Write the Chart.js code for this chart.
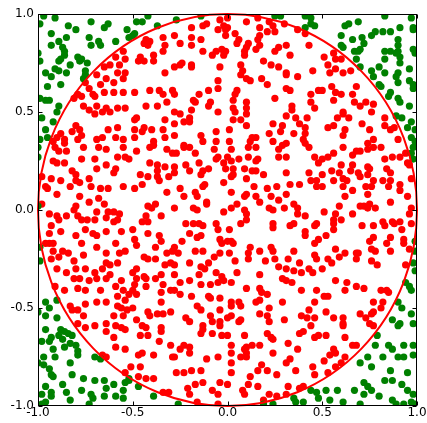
<!DOCTYPE html>
<html>
<head>
<meta charset="utf-8">
<script src="https://cdn.jsdelivr.net/npm/chart.js@4/dist/chart.umd.min.js"></script>
<style>
  html, body { margin: 0; padding: 0; background: #fff; }
  #wrap { width: 427px; height: 423px; }
</style>
</head>
<body>
<div id="wrap"><canvas id="chart" width="427" height="423"></canvas></div>
<script>
// Axis ticks
const xTicks = [-1.0, -0.5, 0.0, 0.5, 1.0];
const yTicks = [-1.0, -0.5, 0.0, 0.5, 1.0];
const circleRadius = 1;

// Points outside the unit circle (green)
const outsidePoints = [
    [-0.97,0.99],[-0.91,0.98],[-0.99,0.95],[-0.93,0.90],[-0.84,0.94],[-0.80,0.92],[-0.72,0.96],[-0.65,0.93],[-0.63,0.95],[-0.53,0.92],
    [-0.52,0.88],[-0.85,0.88],[-0.89,0.86],[-0.93,0.84],[-0.87,0.83],[-0.86,0.81],[-0.86,0.79],[-0.73,0.88],[-0.72,0.84],[-0.68,0.86],
    [-0.67,0.84],[-0.59,0.86],[-1.00,0.80],[-0.99,0.76],[-0.88,0.77],[-0.89,0.76],[-0.79,0.78],[-0.78,0.76],[-0.77,0.77],[-0.74,0.75],
    [-0.83,0.74],[-0.91,0.72],[-0.89,0.71],[-0.96,0.70],[-0.85,0.70],[-0.75,0.71],[-0.75,0.69],[-0.93,0.68],[-0.95,0.63],[-0.88,0.64],
    [-0.76,0.67],[-0.99,0.57],[-0.96,0.56],[-0.94,0.56],[-0.89,0.53],[-0.90,0.50],[-0.98,0.47],[-0.92,0.45],[-0.96,0.41],[-0.95,0.37],
    [-0.99,0.36],
    [-0.48,0.96],[-0.45,0.96],[-0.42,0.99],[-0.37,0.94],[-0.27,0.97],[-0.50,0.89],[-0.49,0.90],[-0.14,0.99],
    [0.25,0.99],[0.28,0.99],[0.41,0.99],[0.44,0.98],[0.44,0.95],[0.46,0.94],[0.41,0.93],
    [0.83,0.99],[0.97,0.98],[0.98,0.93],[0.98,0.92],[0.62,0.94],[0.64,0.95],[0.69,0.96],[0.91,0.93],[0.60,0.89],[0.78,0.91],
    [0.82,0.91],[0.86,0.91],[0.71,0.88],[0.76,0.89],[0.66,0.87],[0.72,0.85],[0.60,0.84],[0.61,0.83],[0.70,0.82],[0.69,0.81],
    [0.67,0.81],[0.90,0.87],[0.90,0.84],[0.83,0.81],[0.86,0.81],[0.89,0.80],[0.90,0.81],[0.91,0.78],[0.83,0.77],[0.98,0.82],
    [0.99,0.80],[0.68,0.77],[0.91,0.75],[0.96,0.72],[0.70,0.73],[0.76,0.71],[0.80,0.73],[0.83,0.70],[0.90,0.70],[0.89,0.68],
    [0.77,0.68],[0.80,0.64],[0.81,0.63],[0.90,0.65],[0.96,0.66],[0.98,0.64],[0.86,0.60],[0.98,0.62],[0.90,0.57],[0.91,0.55],
    [0.85,0.58],[0.96,0.53],[0.89,0.48],[0.92,0.47],[0.97,0.45],[0.99,0.41],[0.95,0.42],[0.97,0.37],[0.99,0.35],
    [-1.00,0.32],[-1.00,0.27],[-1.00,0.02],[-0.99,-0.19],[-0.99,-0.26],
    [0.98,0.32],[0.97,0.29],[0.98,0.26],[0.99,-0.16],[0.99,-0.21],[0.98,-0.27],[0.99,-0.31],
    [-0.96,-0.47],[-0.90,-0.46],[-0.94,-0.50],[-1.00,-0.52],[-0.96,-0.54],[-0.90,-0.55],[-0.96,-0.61],[-0.88,-0.61],[-0.86,-0.62],[-0.84,-0.63],
    [-0.82,-0.64],[-0.89,-0.64],[-0.93,-0.65],[-0.94,-0.67],[-0.98,-0.67],[-0.87,-0.66],[-0.83,-0.68],[-0.80,-0.69],[-0.86,-0.70],[-0.92,-0.71],
    [-0.79,-0.72],[-0.79,-0.74],[-0.97,-0.75],[-0.91,-0.75],[-1.00,-0.78],[-0.97,-0.79],[-0.94,-0.81],[-0.93,-0.84],[-0.92,-0.85],[-0.83,-0.78],
    [-0.82,-0.84],[-0.70,-0.75],[-0.67,-0.76],[-0.76,-0.86],[-0.70,-0.87],[-0.65,-0.87],[-0.60,-0.89],[-0.54,-0.88],[-0.52,-0.87],[-0.96,-0.90],
    [-0.87,-0.89],[-0.64,-0.91],[-0.55,-0.92],[-0.98,-0.94],[-0.93,-0.93],[-0.93,-0.95],[-0.85,-0.93],[-0.77,-0.92],[-0.72,-0.94],[-0.71,-0.96],
    [-0.65,-0.95],[-0.59,-0.95],[-0.55,-0.96],[-0.96,-0.98],[-0.98,-0.99],[-0.83,-0.97],[-0.73,-0.99],
    [-0.52,-0.86],[-0.47,-0.90],[-0.39,-0.95],[-0.26,-0.99],
    [0.19,-0.99],[0.24,-0.99],[0.35,-0.96],[0.36,-0.98],[0.40,-0.98],[0.44,-0.92],[0.47,-0.93],[0.48,-0.96],
    [0.96,-0.39],[0.94,-0.37],[0.97,-0.41],[0.90,-0.47],[0.92,-0.50],[0.97,-0.53],[0.87,-0.56],[0.91,-0.58],[0.90,-0.59],[0.98,-0.58],
    [0.79,-0.64],[0.78,-0.69],[0.85,-0.69],[0.87,-0.71],[0.93,-0.69],[0.98,-0.69],[0.93,-0.75],[0.90,-0.75],[0.98,-0.74],[0.74,-0.75],
    [0.82,-0.75],[0.70,-0.78],[0.76,-0.80],[0.86,-0.82],[0.95,-0.83],[0.83,-0.87],[0.87,-0.87],[0.92,-0.89],[0.72,-0.88],[0.74,-0.90],
    [0.67,-0.92],[0.76,-0.92],[0.72,-0.94],[0.95,-0.92],[0.98,-0.94],[0.58,-0.92],[0.52,-0.92],[0.54,-0.97],[0.61,-0.98],[0.70,-0.99],
    [0.87,-0.97],[0.89,-0.99],[0.93,-0.99],[0.97,-0.98],[0.99,-0.99],[0.80,-0.95]
];

// Points inside the unit circle (red)
const insidePoints = [
    [-0.55,0.81],[-0.59,0.78],[-0.54,0.77],[-0.62,0.74],[-0.57,0.74],[-0.65,0.73],[-0.54,0.70],[-0.58,0.70],[-0.69,0.69],[-0.64,0.67],
    [-0.55,0.67],[-0.60,0.65],[-0.67,0.64],[-0.75,0.65],[-0.73,0.62],[-0.65,0.60],[-0.60,0.60],[-0.55,0.60],[-0.79,0.59],[-0.77,0.58],
    [-0.71,0.59],[-0.70,0.58],[-0.81,0.57],[-0.76,0.53],[-0.69,0.53],[-0.64,0.52],[-0.73,0.51],[-0.66,0.50],[-0.58,0.52],[-0.54,0.52],
    [-0.62,0.50],[-0.70,0.49],[-0.80,0.43],[-0.78,0.41],[-0.82,0.40],[-0.77,0.38],[-0.88,0.39],[-0.90,0.37],[-0.86,0.36],[-0.79,0.36],
    [-0.69,0.36],[-0.63,0.41],[-0.58,0.42],[-0.66,0.37],[-0.59,0.37],[-0.55,0.36],[-0.92,0.35],[-0.86,0.34],
    [-0.19,0.93],[-0.11,0.95],[-0.13,0.94],[-0.04,0.97],[-0.02,0.94],[-0.05,0.92],[-0.01,0.92],[-0.43,0.87],[-0.41,0.86],[-0.44,0.85],
    [-0.42,0.84],[-0.34,0.88],[-0.33,0.84],[-0.28,0.89],[-0.25,0.85],[-0.19,0.88],[-0.19,0.84],[-0.14,0.87],[-0.13,0.81],[-0.06,0.81],
    [-0.08,0.79],[-0.03,0.82],[-0.02,0.79],[-0.46,0.78],[-0.47,0.76],[-0.44,0.76],[-0.39,0.79],[-0.39,0.76],[-0.34,0.81],[-0.28,0.73],
    [-0.25,0.74],[-0.24,0.75],[-0.19,0.74],[-0.19,0.73],[-0.33,0.70],[-0.04,0.73],[-0.05,0.66],[-0.05,0.62],[-0.49,0.60],[-0.41,0.61],
    [-0.36,0.61],[-0.34,0.59],[-0.29,0.61],[-0.28,0.59],[-0.15,0.59],[-0.10,0.61],[-0.32,0.55],[-0.37,0.53],[-0.43,0.53],[-0.18,0.56],
    [-0.17,0.55],[-0.09,0.55],[-0.10,0.53],[-0.28,0.50],[-0.25,0.49],[-0.19,0.51],[-0.20,0.47],[-0.20,0.45],[-0.23,0.45],[-0.05,0.50],
    [-0.48,0.47],[-0.49,0.46],[-0.33,0.46],[-0.28,0.44],[-0.44,0.42],[-0.45,0.40],[-0.49,0.41],[-0.40,0.41],[-0.34,0.41],[-0.33,0.37],
    [-0.28,0.38],[-0.49,0.37],[-0.39,0.35],[-0.23,0.33],[-0.14,0.38],[-0.13,0.35],[-0.06,0.40],[-0.06,0.35],
    [0.00,0.98],[0.10,0.96],[0.16,0.98],[0.22,0.96],[0.24,0.94],[0.17,0.93],[0.21,0.91],[0.25,0.91],[0.30,0.95],[0.37,0.92],
    [0.41,0.90],[0.00,0.93],[-0.01,0.89],[0.04,0.90],[0.06,0.87],[0.05,0.85],[0.17,0.89],[0.16,0.87],[0.11,0.85],[0.10,0.83],
    [0.09,0.81],[0.09,0.79],[0.17,0.84],[0.15,0.82],[0.27,0.83],[0.31,0.84],[0.25,0.81],[0.33,0.79],[0.43,0.84],[-0.01,0.81],
    [0.19,0.76],[0.23,0.74],[0.07,0.74],[0.08,0.71],[0.07,0.69],[0.10,0.67],[0.12,0.66],[0.18,0.67],[0.21,0.64],[0.27,0.73],
    [0.31,0.70],[0.31,0.69],[0.37,0.68],[0.45,0.71],[0.05,0.61],[0.04,0.59],[0.03,0.56],[0.31,0.62],[0.33,0.61],[0.44,0.59],
    [0.48,0.61],[0.10,0.55],[0.25,0.57],[0.44,0.55],[0.34,0.53],[0.34,0.51],[0.46,0.52],[0.03,0.52],[0.04,0.50],[0.10,0.52],
    [0.10,0.49],[0.03,0.46],[0.07,0.46],[0.10,0.43],[0.31,0.48],[0.36,0.47],[0.42,0.47],[0.24,0.44],[0.29,0.43],[0.38,0.44],
    [0.41,0.42],[0.01,0.41],[0.01,0.35],[0.22,0.39],[0.28,0.40],[0.35,0.39],[0.41,0.39],[0.13,0.37],[0.15,0.37],[0.12,0.35],
    [0.24,0.35],[0.31,0.34],[0.40,0.36],[0.41,0.34],
    [0.51,0.78],[0.56,0.80],[0.57,0.77],[0.60,0.77],[0.53,0.74],[0.54,0.70],[0.57,0.72],[0.61,0.70],[0.65,0.71],[0.50,0.61],
    [0.55,0.63],[0.57,0.60],[0.56,0.56],[0.60,0.59],[0.66,0.59],[0.68,0.63],[0.73,0.55],[0.70,0.53],[0.67,0.55],[0.77,0.54],
    [0.76,0.50],[0.61,0.50],[0.61,0.49],[0.58,0.47],[0.64,0.47],[0.53,0.42],[0.56,0.43],[0.62,0.41],[0.61,0.38],[0.71,0.44],
    [0.75,0.41],[0.83,0.47],[0.83,0.43],[0.86,0.41],[0.88,0.42],[0.77,0.36],[0.90,0.36],[0.74,0.34],
    [-0.91,0.32],[-0.89,0.30],[-0.85,0.30],[-0.76,0.32],[-0.68,0.32],[-0.64,0.31],[-0.58,0.27],[-0.55,0.32],[-0.54,0.27],[-0.52,0.26],
    [-0.92,0.25],[-0.90,0.24],[-0.86,0.24],[-0.77,0.26],[-0.70,0.26],[-0.64,0.23],[-0.69,0.21],[-0.59,0.21],[-0.60,0.19],[-0.82,0.20],
    [-0.80,0.18],[-0.98,0.17],[-0.93,0.16],[-0.88,0.15],[-0.80,0.15],[-0.78,0.14],[-0.73,0.16],[-0.72,0.12],[-0.67,0.11],[-0.63,0.11],
    [-0.55,0.12],[-0.96,0.12],[-0.95,0.11],[-0.90,0.08],[-0.83,0.12],[-0.78,0.07],[-0.68,0.06],[-0.65,0.03],[-0.98,0.03],[-0.80,0.02],
    [-0.81,0.00],[-0.73,0.04],[-0.69,-0.01],[-0.63,-0.01],[-0.60,-0.01],[-0.57,-0.02],[-0.58,-0.05],[-0.64,-0.04],[-0.94,-0.02],[-0.90,-0.03],
    [-0.89,-0.05],[-0.85,-0.03],[-0.79,-0.03],[-0.77,-0.05],[-0.74,-0.05],[-0.70,-0.05],[-0.93,-0.08],[-0.88,-0.11],[-0.94,-0.12],[-0.80,-0.13],
    [-0.75,-0.10],[-0.71,-0.12],[-0.69,-0.13],[-0.64,-0.11],[-0.60,-0.06],[-0.56,-0.11],[-0.59,-0.17],[-0.96,-0.17],[-0.94,-0.17],[-0.92,-0.17],
    [-0.92,-0.21],[-0.87,-0.21],[-0.84,-0.22],[-0.77,-0.17],[-0.69,-0.19],[-0.64,-0.22],[-0.57,-0.22],[-0.54,-0.21],[-0.93,-0.25],[-0.89,-0.24],
    [-0.81,-0.26],[-0.76,-0.23],[-0.64,-0.27],[-0.58,-0.27],[-0.90,-0.30],[-0.80,-0.30],[-0.75,-0.30],[-0.66,-0.30],[-0.62,-0.28],[-0.85,-0.32],
    [-0.70,-0.32],[-0.62,-0.33],
    [-0.48,0.30],[-0.41,0.32],[-0.39,0.33],[-0.32,0.31],[-0.29,0.29],[-0.27,0.29],[-0.23,0.32],[-0.20,0.32],[-0.17,0.29],[-0.07,0.31],
    [-0.05,0.27],[-0.02,0.24],[-0.06,0.26],[-0.41,0.24],[-0.37,0.23],[-0.37,0.20],[-0.33,0.22],[-0.28,0.22],[-0.28,0.19],[-0.22,0.23],
    [-0.15,0.24],[-0.13,0.20],[-0.10,0.21],[-0.20,0.20],[-0.46,0.18],[-0.42,0.17],[-0.37,0.17],[-0.36,0.15],[-0.31,0.17],[-0.45,0.13],
    [-0.49,0.11],[-0.14,0.18],[-0.13,0.12],[-0.12,0.13],[-0.02,0.14],[-0.25,0.11],[-0.32,0.09],[-0.23,0.07],[-0.17,0.09],[-0.16,0.07],
    [-0.11,0.04],[-0.11,0.03],[-0.42,0.02],[-0.38,0.03],[-0.40,0.01],[-0.28,0.01],[-0.18,0.01],[-0.16,0.00],[-0.02,-0.01],[-0.43,-0.03],
    [-0.35,-0.03],[-0.45,-0.06],[-0.42,-0.06],[-0.22,-0.07],[-0.18,-0.07],[-0.15,-0.07],[-0.13,-0.08],[-0.06,-0.07],[-0.05,-0.10],[-0.50,-0.10],
    [-0.42,-0.12],[-0.36,-0.13],[-0.35,-0.16],[-0.49,-0.15],[-0.20,-0.12],[-0.16,-0.14],[-0.14,-0.13],[-0.24,-0.16],[-0.04,-0.15],[-0.03,-0.17],
    [-0.48,-0.18],[-0.38,-0.19],[-0.28,-0.19],[-0.32,-0.22],[-0.29,-0.21],[-0.26,-0.22],[-0.17,-0.21],[-0.13,-0.21],[-0.04,-0.22],[-0.44,-0.24],
    [-0.42,-0.25],[-0.38,-0.25],[-0.07,-0.24],[-0.30,-0.27],[-0.33,-0.28],[-0.28,-0.28],[-0.20,-0.27],[-0.10,-0.27],[-0.48,-0.30],[-0.50,-0.32],
    [-0.14,-0.29],[-0.12,-0.30],[-0.35,-0.33],[-0.28,-0.33],[-0.44,-0.34],[-0.15,-0.33],[-0.06,-0.32],[-0.03,-0.34],
    [0.02,0.31],[0.11,0.32],[0.15,0.32],[0.27,0.31],[0.29,0.33],[0.43,0.32],[0.00,0.27],[0.02,0.25],[0.06,0.26],[0.11,0.27],
    [0.16,0.26],[0.15,0.25],[0.27,0.27],[0.31,0.27],[0.46,0.27],[0.48,0.24],[-0.01,0.21],[0.03,0.21],[0.09,0.21],[0.13,0.20],
    [0.15,0.20],[0.02,0.17],[0.03,0.18],[0.10,0.16],[0.19,0.18],[0.31,0.19],[0.43,0.19],[0.44,0.15],[0.47,0.15],[0.47,0.12],
    [0.21,0.11],[0.26,0.12],[0.33,0.13],[0.38,0.13],[0.14,0.12],[0.02,0.09],[0.10,0.08],[0.09,0.07],[0.15,0.07],[0.23,0.07],
    [0.27,0.05],[0.31,0.08],[0.17,0.04],[0.05,0.03],[0.02,0.01],[0.22,0.01],[0.24,0.00],[0.30,0.01],[0.35,0.03],[0.37,0.01],
    [0.37,-0.02],[0.41,-0.03],[0.09,0.00],[0.10,-0.02],[0.10,-0.05],[0.07,-0.07],[0.24,-0.07],[0.24,-0.09],[0.33,-0.08],[0.35,-0.07],
    [0.46,-0.08],[0.47,-0.07],[0.01,-0.10],[0.41,-0.11],[0.41,-0.13],[0.46,-0.17],[0.48,-0.15],[0.00,-0.16],[0.02,-0.16],[0.03,-0.17],
    [0.12,-0.19],[0.17,-0.21],[0.23,-0.19],[0.24,-0.21],[0.35,-0.21],[0.01,-0.22],[0.11,-0.22],[0.11,-0.25],[0.46,-0.23],[0.47,-0.25],
    [0.04,-0.26],[0.20,-0.26],[0.25,-0.25],[0.32,-0.25],[0.38,-0.27],[0.27,-0.29],[0.31,-0.30],[0.35,-0.31],[0.43,-0.30],[0.45,-0.32],
    [0.05,-0.32],[0.17,-0.33],[0.39,-0.32],
    [0.61,0.32],[0.68,0.30],[0.74,0.31],[0.77,0.32],[0.81,0.32],[0.70,0.30],[0.66,0.28],[0.56,0.29],[0.53,0.27],[0.50,0.26],
    [0.87,0.27],[0.91,0.27],[0.94,0.29],[0.95,0.24],[0.96,0.23],[0.83,0.26],[0.60,0.23],[0.66,0.23],[0.65,0.20],[0.74,0.22],
    [0.75,0.21],[0.84,0.21],[0.86,0.19],[0.55,0.20],[0.50,0.18],[0.59,0.19],[0.69,0.19],[0.70,0.17],[0.74,0.18],[0.61,0.16],
    [0.63,0.15],[0.56,0.15],[0.77,0.15],[0.82,0.15],[0.86,0.15],[0.85,0.12],[0.91,0.13],[0.97,0.16],[0.50,0.12],[0.61,0.12],
    [0.66,0.10],[0.62,0.07],[0.73,0.12],[0.76,0.12],[0.91,0.10],[0.74,0.08],[0.95,0.07],[0.86,0.04],[0.59,0.02],[0.70,0.02],
    [0.72,0.02],[0.74,0.01],[0.75,0.03],[0.78,0.01],[0.97,0.01],[0.51,-0.01],[0.57,-0.02],[0.66,-0.02],[0.96,-0.02],[0.56,-0.05],
    [0.60,-0.05],[0.56,-0.07],[0.82,-0.06],[0.83,-0.08],[0.87,-0.06],[0.88,-0.07],[0.91,-0.06],[0.97,-0.07],[0.71,-0.08],[0.77,-0.08],
    [0.92,-0.10],[0.56,-0.10],[0.52,-0.13],[0.77,-0.14],[0.86,-0.14],[0.93,-0.15],[0.75,-0.16],[0.84,-0.17],[0.93,-0.17],[0.96,-0.20],
    [0.57,-0.20],[0.62,-0.22],[0.68,-0.22],[0.69,-0.22],[0.76,-0.20],[0.78,-0.21],[0.86,-0.21],[0.53,-0.25],[0.55,-0.27],[0.59,-0.24],
    [0.68,-0.25],[0.76,-0.26],[0.79,-0.28],[0.94,-0.28],[0.50,-0.30],
    [-0.81,-0.35],[-0.78,-0.35],[-0.73,-0.36],[-0.69,-0.35],[-0.64,-0.35],[-0.91,-0.39],[-0.86,-0.41],[-0.79,-0.40],[-0.75,-0.41],[-0.67,-0.41],
    [-0.59,-0.39],[-0.55,-0.41],[-0.52,-0.43],[-0.56,-0.36],[-0.69,-0.47],[-0.64,-0.47],[-0.58,-0.44],[-0.54,-0.46],[-0.83,-0.49],[-0.82,-0.51],
    [-0.79,-0.51],[-0.75,-0.48],[-0.58,-0.49],[-0.56,-0.50],[-0.53,-0.51],[-0.76,-0.54],[-0.60,-0.54],[-0.55,-0.54],[-0.79,-0.58],[-0.75,-0.60],
    [-0.70,-0.59],[-0.64,-0.58],[-0.59,-0.59],[-0.56,-0.60],[-0.64,-0.62],[-0.54,-0.61],[-0.60,-0.65],[-0.59,-0.70],[-0.54,-0.71],[-0.66,-0.74],
    [-0.64,-0.75],[-0.54,-0.83],
    [-0.48,-0.35],[-0.43,-0.35],[-0.38,-0.35],[-0.49,-0.38],[-0.50,-0.41],[-0.48,-0.43],[-0.43,-0.39],[-0.34,-0.38],[-0.35,-0.42],[-0.30,-0.41],
    [-0.28,-0.41],[-0.25,-0.37],[-0.20,-0.36],[-0.14,-0.38],[-0.09,-0.38],[-0.05,-0.37],[-0.02,-0.36],[-0.25,-0.43],[-0.19,-0.44],[-0.10,-0.44],
    [-0.09,-0.45],[-0.04,-0.45],[-0.35,-0.47],[-0.50,-0.50],[-0.16,-0.49],[-0.14,-0.51],[-0.04,-0.51],[-0.42,-0.52],[-0.41,-0.54],[-0.37,-0.53],
    [-0.34,-0.53],[-0.30,-0.52],[-0.22,-0.55],[-0.20,-0.57],[-0.09,-0.54],[-0.08,-0.57],[-0.48,-0.56],[-0.45,-0.59],[-0.43,-0.60],[-0.35,-0.60],
    [-0.35,-0.62],[-0.13,-0.59],[-0.13,-0.61],[-0.14,-0.63],[-0.04,-0.57],[-0.04,-0.59],[-0.03,-0.64],[-0.08,-0.63],[-0.46,-0.64],[-0.42,-0.64],
    [-0.36,-0.67],[-0.47,-0.74],[-0.45,-0.73],[-0.39,-0.74],[-0.30,-0.69],[-0.23,-0.69],[-0.20,-0.70],[-0.20,-0.73],[-0.25,-0.71],[-0.29,-0.75],
    [-0.28,-0.75],[-0.11,-0.76],[-0.05,-0.75],[-0.51,-0.80],[-0.46,-0.80],[-0.27,-0.83],[-0.23,-0.83],[-0.19,-0.82],[-0.14,-0.82],[-0.47,-0.85],
    [-0.43,-0.86],[-0.39,-0.86],[-0.17,-0.89],[-0.13,-0.88],[-0.04,-0.88],[-0.21,-0.91],[-0.08,-0.92],[-0.20,-0.94],[-0.05,-0.94],[-0.34,-0.93],
    [-0.31,-0.93],[-0.16,-0.98],[-0.05,-0.99],
    [0.02,-0.37],[0.10,-0.40],[0.17,-0.40],[0.18,-0.42],[0.21,-0.43],[0.29,-0.35],[0.31,-0.36],[0.34,-0.37],[0.39,-0.41],[0.47,-0.41],
    [0.02,-0.47],[0.02,-0.49],[0.06,-0.47],[0.07,-0.49],[0.15,-0.47],[0.17,-0.46],[0.29,-0.47],[0.46,-0.47],[0.22,-0.50],[0.43,-0.51],
    [0.00,-0.55],[0.02,-0.54],[0.07,-0.56],[0.06,-0.57],[0.17,-0.53],[0.21,-0.54],[0.22,-0.57],[0.30,-0.56],[0.39,-0.54],[0.42,-0.55],
    [0.46,-0.55],[0.44,-0.59],[0.38,-0.63],[0.40,-0.62],[0.00,-0.64],[0.09,-0.64],[0.21,-0.63],[0.24,-0.66],[0.23,-0.65],[0.46,-0.65],
    [0.48,-0.64],[0.02,-0.69],[0.02,-0.73],[0.09,-0.71],[0.10,-0.70],[0.13,-0.69],[0.17,-0.69],[0.07,-0.75],[0.10,-0.73],[0.10,-0.75],
    [0.24,-0.73],[0.32,-0.68],[0.37,-0.71],[0.33,-0.76],[0.31,-0.78],[0.18,-0.79],[0.02,-0.78],[0.36,-0.82],[0.45,-0.80],[0.46,-0.84],
    [0.21,-0.82],[0.26,-0.84],[0.16,-0.82],[0.12,-0.85],[0.02,-0.83],[0.00,-0.89],[0.11,-0.89],[0.16,-0.90],[0.08,-0.92],[0.09,-0.94],
    [0.32,-0.90],[0.40,-0.90],[0.22,-0.94],[0.26,-0.95],[0.38,-0.91],[0.19,-0.97],[0.31,-0.94],
    [0.57,-0.36],[0.63,-0.37],[0.68,-0.39],[0.72,-0.40],[0.51,-0.44],[0.53,-0.44],[0.62,-0.41],[0.81,-0.41],[0.84,-0.41],[0.85,-0.42],
    [0.82,-0.47],[0.77,-0.47],[0.52,-0.52],[0.56,-0.55],[0.61,-0.55],[0.70,-0.53],[0.73,-0.55],[0.76,-0.53],[0.77,-0.52],[0.81,-0.50],
    [0.61,-0.58],[0.61,-0.59],[0.75,-0.58],[0.77,-0.59],[0.52,-0.64],[0.62,-0.65],[0.66,-0.69],[0.68,-0.69],[0.56,-0.71],[0.54,-0.74],
    [0.57,-0.73],[0.62,-0.75],[0.51,-0.77],[0.53,-0.83],[0.57,-0.80],[0.60,-0.78]
];

const FONT = { family: "'DejaVu Sans', sans-serif", size: 12 };

function toXY(list) {
    return list.map(p => ({ x: p[0], y: p[1] }));
}

// circle, frame and inward tick marks (matplotlib look)
const decorations = {
    id: "decorations",
    afterDatasetsDraw(chart) {
        const { ctx, chartArea, scales } = chart;
        const xs = scales.x, ys = scales.y;

        const cx = xs.getPixelForValue(0);
        const cy = ys.getPixelForValue(0);
        const rx = xs.getPixelForValue(circleRadius) - cx;
        const ry = cy - ys.getPixelForValue(circleRadius);

        ctx.save();
        ctx.beginPath();
        ctx.ellipse(cx, cy, rx, ry, 0, 0, Math.PI * 2);
        ctx.strokeStyle = "#ff0000";
        ctx.lineWidth = 2;
        ctx.stroke();

        const l = Math.round(chartArea.left) + 0.5;
        const r = Math.round(chartArea.right) - 0.5;
        const t = Math.round(chartArea.top) + 0.5;
        const b = Math.round(chartArea.bottom) - 0.5;

        ctx.strokeStyle = "#000";
        ctx.lineWidth = 1;
        ctx.strokeRect(l, t, r - l, b - t);

        const tl = 4;
        ctx.beginPath();
        xTicks.forEach(v => {
            const px = Math.round(xs.getPixelForValue(v)) + 0.5;
            ctx.moveTo(px, b); ctx.lineTo(px, b - tl);
            ctx.moveTo(px, t); ctx.lineTo(px, t + tl);
        });
        yTicks.forEach(v => {
            const py = Math.round(ys.getPixelForValue(v)) + 0.5;
            ctx.moveTo(l, py); ctx.lineTo(l + tl, py);
            ctx.moveTo(r, py); ctx.lineTo(r - tl, py);
        });
        ctx.stroke();
        ctx.restore();
    }
};

new Chart(document.getElementById("chart"), {
    type: "scatter",
    data: {
        datasets: [
            {
                label: "outside",
                data: toXY(outsidePoints),
                backgroundColor: "#008000",
                borderColor: "#008000",
                borderWidth: 0,
                pointRadius: 3.6,
                clip: 0
            },
            {
                label: "inside",
                data: toXY(insidePoints),
                backgroundColor: "#ff0000",
                borderColor: "#ff0000",
                borderWidth: 0,
                pointRadius: 3.6,
                clip: 0
            }
        ]
    },
    options: {
        responsive: false,
        animation: false,
        layout: { padding: { top: 14, right: 10, left: 0, bottom: 0 } },
        plugins: {
            legend: { display: false },
            tooltip: { enabled: false }
        },
        scales: {
            x: {
                type: "linear",
                min: -1,
                max: 1,
                grid: { display: false, drawTicks: false },
                border: { display: false },
                afterBuildTicks: s => { s.ticks = xTicks.map(v => ({ value: v })); },
                ticks: {
                    font: FONT,
                    color: "#000",
                    padding: 0,
                    maxRotation: 0,
                    autoSkip: false,
                    callback: v => v.toFixed(1)
                },
                afterFit: s => { s.height = 17; s.paddingLeft = 0; s.paddingRight = 0; }
            },
            y: {
                type: "linear",
                min: -1,
                max: 1,
                grid: { display: false, drawTicks: false },
                border: { display: false },
                afterBuildTicks: s => { s.ticks = yTicks.map(v => ({ value: v })); },
                ticks: {
                    font: FONT,
                    color: "#000",
                    padding: 4,
                    autoSkip: false,
                    callback: v => v.toFixed(1)
                },
                afterFit: s => { s.width = 38; s.paddingTop = 0; s.paddingBottom = 0; }
            }
        }
    },
    plugins: [decorations]
});
</script>
</body>
</html>
